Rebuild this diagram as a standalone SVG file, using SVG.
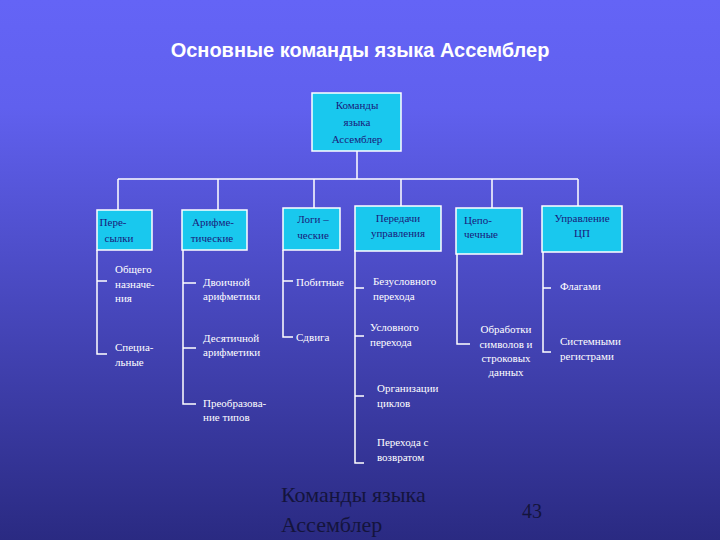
<svg xmlns="http://www.w3.org/2000/svg" width="720" height="540" viewBox="0 0 720 540">
<defs>
<linearGradient id="bg" x1="0" y1="0" x2="0" y2="1">
<stop offset="0" stop-color="#6464f6"/>
<stop offset="0.2" stop-color="#6060ee"/>
<stop offset="1" stop-color="#2a2a82"/>
</linearGradient>
<style>
.box{fill:#19c8ee;stroke:#ffffff;stroke-width:1.5}
.bt{font-family:"Liberation Serif",serif;font-size:11px;fill:#1a1a7a;text-anchor:middle}
.it{font-family:"Liberation Serif",serif;font-size:11px;fill:#ffffff}
.ln{stroke:#ffffff;stroke-width:1.5;fill:none}
</style>
</defs>
<rect width="720" height="540" fill="url(#bg)"/>
<text x="360" y="57" text-anchor="middle" font-family="Liberation Sans,Arial,sans-serif" font-size="20" font-weight="bold" fill="#ffffff">Основные команды языка Ассемблер</text>
<g id="connectors" class="ln">
<path d="M357 151V179M118 179H578M118 179V210M218 179V210M314 179V208M401 179V206M492 179V208M578 179V206"/>
<path d="M97 250V354H107M97 281H107"/>
<path d="M183 250V404H196M183 283H196M183 348H196"/>
<path d="M283 250V337H293M283 281H293"/>
<path d="M355 250V463H364M355 288H364M355 336H364M355 396H364"/>
<path d="M457 254V344H470"/>
<path d="M543 252V352H551M543 288H551"/>
</g>
<g id="root"><rect class="box" x="312" y="93" width="89" height="58"/>
<text class="bt" x="357" y="109">Команды</text><text class="bt" x="357" y="126">языка</text><text class="bt" x="357" y="143">Ассемблер</text></g>
<g id="n1"><rect class="box" x="97" y="210" width="55" height="40"/><text class="bt" x="113" y="226">Пере-</text><text class="bt" x="119" y="242">сылки</text></g>
<g id="n2"><rect class="box" x="182" y="210" width="65" height="40"/><text class="bt" x="213" y="226">Арифме-</text><text class="bt" x="212" y="242">тические</text></g>
<g id="n3"><rect class="box" x="283" y="208" width="57" height="42"/><text class="bt" x="313" y="223">Логи –</text><text class="bt" x="313" y="239">ческие</text></g>
<g id="n4"><rect class="box" x="355" y="206" width="86" height="45"/><text class="bt" x="398" y="222">Передачи</text><text class="bt" x="398" y="237">управления</text></g>
<g id="n5"><rect class="box" x="456" y="208" width="66" height="46"/><text class="bt" x="478" y="224">Цепо-</text><text class="bt" x="481" y="238">чечные</text></g>
<g id="n6"><rect class="box" x="542" y="206" width="80" height="46"/><text class="bt" x="582" y="222">Управление</text><text class="bt" x="582" y="237">ЦП</text></g>
<g id="items">
<text class="it" x="115" y="273">Общего</text><text class="it" x="115" y="288">назначе-</text><text class="it" x="115" y="302">ния</text>
<text class="it" x="115" y="351">Специа-</text><text class="it" x="115" y="366">льные</text>
<text class="it" x="203" y="286">Двоичной</text><text class="it" x="203" y="300">арифметики</text>
<text class="it" x="203" y="342">Десятичной</text><text class="it" x="203" y="356">арифметики</text>
<text class="it" x="203" y="407">Преобразова-</text><text class="it" x="203" y="421">ние типов</text>
<text class="it" x="296" y="286">Побитные</text>
<text class="it" x="296" y="341">Сдвига</text>
<text class="it" x="373" y="285">Безусловного</text><text class="it" x="373" y="300">перехода</text>
<text class="it" x="370" y="331">Условного</text><text class="it" x="370" y="346">перехода</text>
<text class="it" x="377" y="392">Организации</text><text class="it" x="377" y="407">циклов</text>
<text class="it" x="377" y="446">Перехода с</text><text class="it" x="377" y="461">возвратом</text>
<text class="it" x="506" y="333" text-anchor="middle">Обработки</text><text class="it" x="506" y="348" text-anchor="middle">символов и</text><text class="it" x="506" y="362" text-anchor="middle">строковых</text><text class="it" x="506" y="376" text-anchor="middle">данных</text>
<text class="it" x="560" y="290">Флагами</text>
<text class="it" x="560" y="345">Системными</text><text class="it" x="560" y="360">регистрами</text>
</g>
<g id="footer" font-family="Liberation Serif,serif" fill="#14143c">
<text x="281" y="502" font-size="22">Команды языка</text>
<text x="281" y="532" font-size="22">Ассемблер</text>
<text x="522" y="518" font-size="20">43</text>
</g>
</svg>
